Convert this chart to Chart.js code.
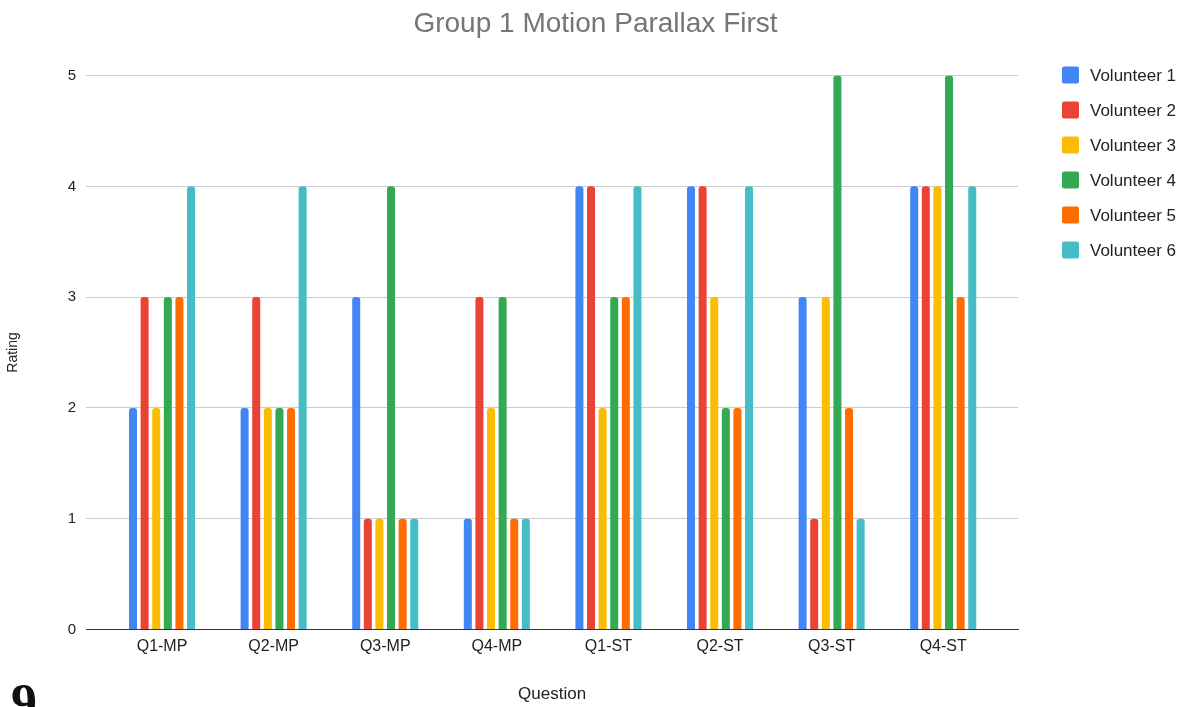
<!DOCTYPE html>
<html>
<head>
<meta charset="utf-8">
<script src="https://cdn.jsdelivr.net/npm/chart.js@4/dist/chart.umd.min.js"></script>
<style>
    html, body { margin: 0; padding: 0; background: #fff; overflow: hidden; }
    #wrap { position: relative; width: 1191px; height: 707px; overflow: hidden; }
    #stray { position: absolute; left: 11px; top: 677px; font: bold 52px/1 "Liberation Serif", serif; color: #111; }
</style>
</head>
<body>
<div id="wrap">
    <canvas id="chart" width="1191" height="707"></canvas>
    <div id="stray">9</div>
</div>
<script>
// Group 1 ratings per question
const questions = ['Q1-MP', 'Q2-MP', 'Q3-MP', 'Q4-MP', 'Q1-ST', 'Q2-ST', 'Q3-ST', 'Q4-ST'];
const volunteer1 = [2, 2, 3, 1, 4, 4, 3, 4];
const volunteer2 = [3, 3, 1, 3, 4, 4, 1, 4];
const volunteer3 = [2, 2, 1, 2, 2, 3, 3, 4];
const volunteer4 = [3, 2, 4, 3, 3, 2, 5, 5];
const volunteer5 = [3, 2, 1, 1, 3, 2, 2, 3];
const volunteer6 = [4, 4, 1, 1, 4, 4, 1, 4];
const seriesNames = ['Volunteer 1', 'Volunteer 2', 'Volunteer 3', 'Volunteer 4', 'Volunteer 5', 'Volunteer 6'];
const colors = ['#4285F4', '#EA4335', '#FBBC04', '#34A853', '#FF6D01', '#46BDC6'];
const ratingTicks = [0, 1, 2, 3, 4, 5];

const series = [volunteer1, volunteer2, volunteer3, volunteer4, volunteer5, volunteer6];
const font = '"Liberation Sans", Arial, sans-serif';

// legend drawn by hand so it sits where the sheet puts it
const sideLegend = {
    id: 'sideLegend',
    afterDraw(chart) {
        const ctx = chart.ctx;
        ctx.save();
        ctx.font = '17px ' + font;
        ctx.textBaseline = 'middle';
        chart.data.datasets.forEach((ds, i) => {
            const y = 75 + i * 35;
            ctx.fillStyle = ds.backgroundColor;
            ctx.beginPath();
            ctx.roundRect(1062, y - 8.5, 17, 17, 2);
            ctx.fill();
            ctx.fillStyle = '#222';
            ctx.fillText(ds.label, 1090, y + 1);
        });
        ctx.restore();
    }
};

new Chart(document.getElementById('chart').getContext('2d'), {
    type: 'bar',
    data: {
        datasets: series.map((vals, i) => ({
            label: seriesNames[i],
            data: vals.map((v, j) => ({ x: j, y: v })),
            backgroundColor: colors[i],
            borderRadius: { topLeft: 3, topRight: 3 },
            borderSkipped: 'start',
            barPercentage: 0.69,
            categoryPercentage: 0.624
        }))
    },
    options: {
        responsive: false,
        animation: false,
        layout: { padding: { left: 0, right: 0, top: 7, bottom: 2 } },
        plugins: {
            title: {
                display: true,
                text: 'Group 1 Motion Parallax First',
                color: '#757575',
                font: { family: font, size: 28, weight: 'normal' },
                padding: { top: 0, bottom: 35 }
            },
            legend: { display: false },
            tooltip: { enabled: false }
        },
        scales: {
            x: {
                type: 'linear',
                offset: false,
                min: -0.68,
                max: 7.67,
                grid: { display: false },
                border: { color: '#333', width: 1 },
                afterBuildTicks: scale => { scale.ticks = questions.map((q, i) => ({ value: i })); },
                ticks: {
                    autoSkip: false,
                    maxRotation: 0,
                    callback: v => questions[v],
                    color: '#222',
                    font: { family: font, size: 16 },
                    padding: 0
                },
                title: { display: true, text: 'Question', color: '#222', font: { family: font, size: 17 }, padding: { top: 28, bottom: 0 } }
            },
            y: {
                min: 0,
                max: 5,
                afterBuildTicks: scale => { scale.ticks = ratingTicks.map(v => ({ value: v })); },
                ticks: { color: '#222', font: { family: font, size: 15 }, padding: 10 },
                grid: { color: ctx => ctx.tick && ctx.tick.value === 0 ? '#333' : '#cccccc', drawTicks: false },
                border: { display: false },
                title: { display: true, text: 'Rating', color: '#222', font: { family: font, size: 14 }, padding: { top: 5, bottom: 36 } }
            },
            // empty right-hand axis that only keeps room for the legend
            side: {
                position: 'right',
                afterFit: scale => { scale.width = 173; },
                grid: { display: false },
                border: { display: false },
                ticks: { display: false }
            }
        }
    },
    plugins: [sideLegend]
});
</script>
</body>
</html>
